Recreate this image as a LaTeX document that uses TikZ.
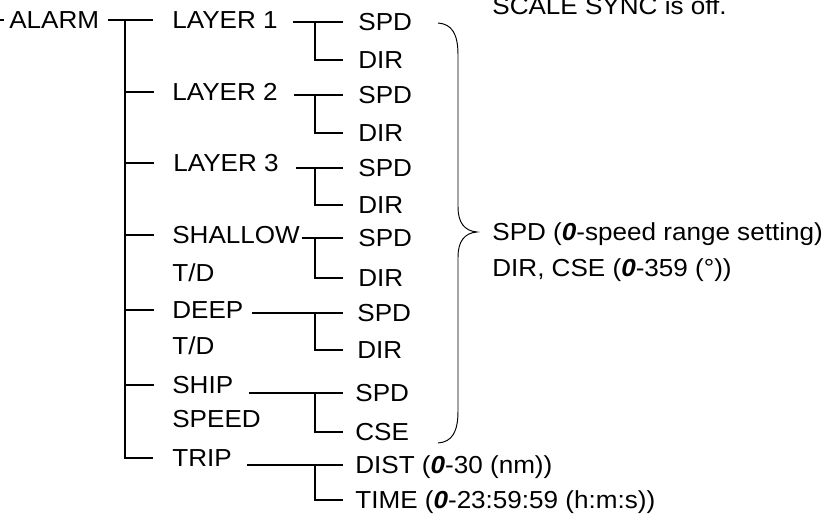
\documentclass[tikz,border=0pt]{standalone}
\usepackage{fontspec}
\setmainfont{Liberation Sans}[FakeStretch=1.06]
\usepackage{tikz}
\usetikzlibrary{positioning}

\begin{document}
\begin{tikzpicture}[
    x=0.02cm, y=-0.02cm,
    every node/.style={font=\fontsize{14}{20.4}\selectfont, inner sep=0pt, text depth=0pt, anchor=west, align=left},
    wire/.style={line width=1.1pt, black},
    brace/.style={line width=0.55pt, black}
]
    \clip (0,0) rectangle (830,519);

    % menu items
    \node (alarm) at (9,20) {ALARM};
    \node (l1) at (172,20) {LAYER 1};
    \node (l2) at (172,92) {LAYER 2};
    \node (l3) at (173,163) {LAYER 3};
    \node (sh) at (172,235) {SHALLOW};
    \node[below=0.38cm of sh.south west, anchor=north west] (shtd) {T/D};
    \node (dp) at (172,310) {DEEP};
    \node[below=0.36cm of dp.south west, anchor=north west] (dptd) {T/D};
    \node (sp) at (172,385) {SHIP};
    \node[below=0.32cm of sp.south west, anchor=north west] (spsp) {SPEED};
    \node (trip) at (172,458) {TRIP};

    % sub items
    \node (a1) at (358,22) {SPD};
    \node (b1) at (358,60) {DIR};
    \node (a2) at (358,95) {SPD};
    \node (b2) at (358,133) {DIR};
    \node (a3) at (358,168) {SPD};
    \node (b3) at (358,205) {DIR};
    \node (a4) at (358,238) {SPD};
    \node (b4) at (358,278) {DIR};
    \node (a5) at (357,313) {SPD};
    \node (b5) at (357,350) {DIR};
    \node (a6) at (355,393) {SPD};
    \node (b6) at (355,432) {CSE};
    \node (a7) at (355,465) {DIST (\textbf{\textit{0}}-30 (nm))};
    \node (b7) at (355,500) {TIME (\textbf{\textit{0}}-23:59:59 (h:m:s))};

    % notes
    \node[anchor=base west] (sync) at (492,15) {SCALE SYNC is off.};
    \node (rng) at (492,250) {SPD (\textbf{\textit{0}}-speed range setting)\\DIR, CSE (\textbf{\textit{0}}-359 (°))};

    \coordinate (lst) at (-30,20);
    \coordinate (tk) at (125,20);
    \coordinate (fk) at (315,0);
    \coordinate (bt) at (438,23);
    \coordinate (tip) at (477,232);
    \coordinate (bb) at (438,443);

    % trunk
    \draw[wire, shorten >=0.1cm] (lst) -- (alarm);
    \draw[wire, shorten <=0.16cm, shorten >=0.38cm] (alarm) -- (l1);
    \draw[wire, shorten >=0.38cm] (tk) |- (trip);
    \draw[wire, shorten >=0.36cm] (tk |- l2) -- (l2);
    \draw[wire, shorten >=0.38cm] (tk |- l3) -- (l3);
    \draw[wire, shorten >=0.36cm] (tk |- sh) -- (sh);
    \draw[wire, shorten >=0.36cm] (tk |- dp) -- (dp);
    \draw[wire, shorten >=0.36cm] (tk |- sp) -- (sp);

    % forks
    \draw[wire, shorten <=0.3cm, shorten >=0.3cm] (l1.east |- a1) -- (a1);
    \draw[wire, shorten >=0.3cm] (fk |- a1) |- (b1);
    \draw[wire, shorten <=0.32cm, shorten >=0.3cm] (l2.east |- a2) -- (a2);
    \draw[wire, shorten >=0.3cm] (fk |- a2) |- (b2);
    \draw[wire, shorten <=0.34cm, shorten >=0.3cm] (l3.east |- a3) -- (a3);
    \draw[wire, shorten >=0.3cm] (fk |- a3) |- (b3);
    \draw[wire, shorten <=0.04cm, shorten >=0.3cm] (sh.east |- a4) -- (a4);
    \draw[wire, shorten >=0.3cm] (fk |- a4) |- (b4);
    \draw[wire, shorten <=0.16cm, shorten >=0.28cm] (dp.east |- a5) -- (a5);
    \draw[wire, shorten >=0.28cm] (fk |- a5) |- (b5);
    \draw[wire, shorten <=0.3cm, shorten >=0.24cm] (sp.east |- a6) -- (a6);
    \draw[wire, shorten >=0.24cm] (fk |- a6) |- (b6);
    \draw[wire, shorten <=0.3cm, shorten >=0.24cm] (trip.east |- a7) -- (a7);
    \draw[wire, shorten >=0.24cm] (fk |- a7) |- (b7);

    % brace
    \draw[brace] (bt) .. controls (452,24) and (458,34) .. (458,55) -- (458,207)
        .. controls (458,222) and (464,231) .. (tip)
        .. controls (464,233) and (458,242) .. (458,257) -- (458,411)
        .. controls (458,432) and (452,442) .. (bb);
\end{tikzpicture}
\end{document}
